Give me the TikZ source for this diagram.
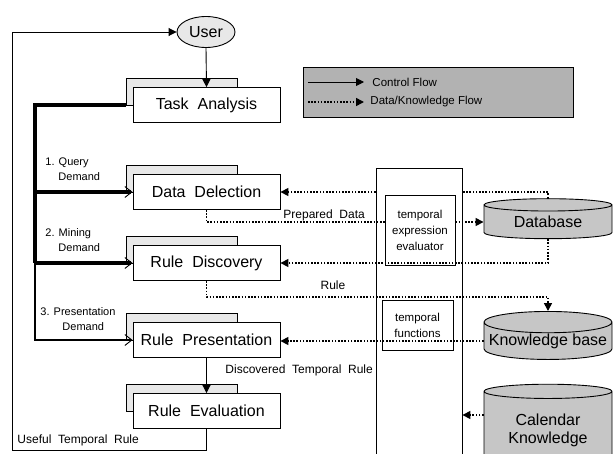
\documentclass[tikz,border=0pt]{standalone}
\usepackage{fontspec}
\setmainfont{Liberation Sans}
\usetikzlibrary{arrows.meta, shapes.geometric}

\begin{document}
\begin{tikzpicture}[x=1pt, y=-1pt, line width=0.9pt,
 box/.style = {draw, fill=white, minimum width=147pt, minimum height=35pt, font=\fontsize{16}{18}\selectfont},
 shade/.style = {draw, fill=gray!18},
 lbl/.style = {font=\fontsize{11}{15}\selectfont, align=left, inner sep=0pt, anchor=west},
 small/.style = {font=\fontsize{12}{14}\selectfont, inner sep=0pt},
 tbox/.style = {draw, align=center, font=\fontsize{11.5}{16}\selectfont},
 store/.style = {cylinder, shape border rotate=90, aspect=0.18, draw, fill=gray!45, inner sep=0pt, minimum width=128pt, font=\fontsize{16}{18}\selectfont, align=center},
 tip/.style = {-{Triangle[length=8pt, width=8pt]}},
 data/.style = {line width=1.6pt, dash pattern=on 1.6pt off 1.6pt},
 bar/.style = {-{Straight Barb[length=7pt, width=11pt, line width=0.9pt]}}]
 \clip (0,0) rectangle (616,453);
 \useasboundingbox (0,0) rectangle (616,453);

 % shadow sheets behind the task boxes
 \foreach \yc in {105, 192, 263, 340, 411}
  \draw[shade] (126,\yc-27) rectangle (237,\yc);

 \node[ellipse, draw, fill=gray!18, minimum width=58pt, minimum height=31pt, inner sep=0pt, font=\fontsize{16}{18}\selectfont] (user) at (206,32) {User};
 \node[box] (ta) at (206.5,105) {Task\ \ Analysis};
 \node[box] (dd) at (206.5,192) {Data\ \ Delection};
 \node[box] (rd) at (206.5,263) {Rule\ \ Discovery};
 \node[box] (rp) at (206.5,340) {Rule\ \ Presentation};
 \node[box] (re) at (206.5,411) {Rule\ \ Evaluation};

 \node[draw, fill=gray!60, minimum width=270pt, minimum height=50pt] (legend) at (438,92) {};
 \coordinate (lga) at (308,82);
 \coordinate (lgb) at (364,82);
 \coordinate (lgc) at (308,102);
 \coordinate (lgd) at (364,102);
 \draw[tip] (lga) -- (lgb);
 \draw[data, tip] (lgc) -- (lgd);
 \node[small, font=\fontsize{11.5}{14}\selectfont, anchor=west] (lgtxta) at (372,82) {Control Flow};
 \node[small, font=\fontsize{11.5}{14}\selectfont, anchor=west] (lgtxtb) at (370,102) {Data/Knowledge Flow};

 \node[draw, minimum width=86pt, minimum height=300pt, inner sep=0pt] (mid) at (419,318) {};
 \node[tbox, minimum width=70pt, minimum height=70pt] (ev) at (420,230) {temporal\\expression\\evaluator};
 \node[tbox, minimum width=71pt, minimum height=50pt] (fn) at (417.5,325) {temporal\\functions};

 \node[store, minimum height=40pt] (db) at (548,222) {Database};
 \node[store, minimum height=48pt] (kb) at (548,341) {Knowledge base};
 \node[store, minimum height=84pt] (cal) at (548,430) {Calendar\\Knowledge};

 % control flow
 \draw[tip] (user.south) -- (ta.north);
 \draw[tip] (rp.south) -- (re.north);
 \coordinate (bus) at (35,0);
 \draw[line width=4pt] ([xshift=-7pt]ta.west) -| (bus |- rd.west);
 \draw[line width=4pt, bar] (bus |- dd.west) -- (dd.west);
 \draw[line width=4pt, bar] (bus |- rd.west) -- (rd.west);
 \draw[line width=2.6pt, bar] (bus |- rd.west) -- (bus |- rp.west) -- (rp.west);
 \coordinate (loop) at (12,450);
 \draw[tip] (re.south) |- (loop) |- (user.west);

 \node[lbl] (q1) at (45,169) {1. Query\\\hspace{13pt}Demand};
 \node[lbl] (q2) at (45,240) {2. Mining\\\hspace{13pt}Demand};
 \node[lbl] (q3) at (40,319) {3. Presentation\\\hspace{22pt}Demand};

 % data / knowledge flow
 \draw[data] (db.north) |- (mid.east |- dd.east);
 \draw[data, tip] (mid.west |- dd.east) -- (dd.east);
 \draw[data] (dd.south) |- (ev.west |- db.west);
 \draw[data, tip] (ev.east |- db.west) -- (db.west);
 \draw[data, tip] (db.south) |- (rd.east);
 \draw[data, tip] (rd.south) |- (kb.north |- 0,297) -- (kb.north);
 \draw[data, tip] (kb.west) -- (kb.west -| rp.east);
 \draw[data, tip] (cal.west |- 0,415) -- (mid.east |- 0,415);

 \node[small, anchor=west] (pd) at (283,215) {Prepared\ \ Data};
 \node[small] (rl) at (333,285) {Rule};
 \node[small, anchor=west] (dtr) at (225,370) {Discovered\ \ Temporal\ \ Rule};
 \node[small, anchor=west] (utr) at (17,440) {Useful\ \ Temporal\ \ Rule};
\end{tikzpicture}
\end{document}
